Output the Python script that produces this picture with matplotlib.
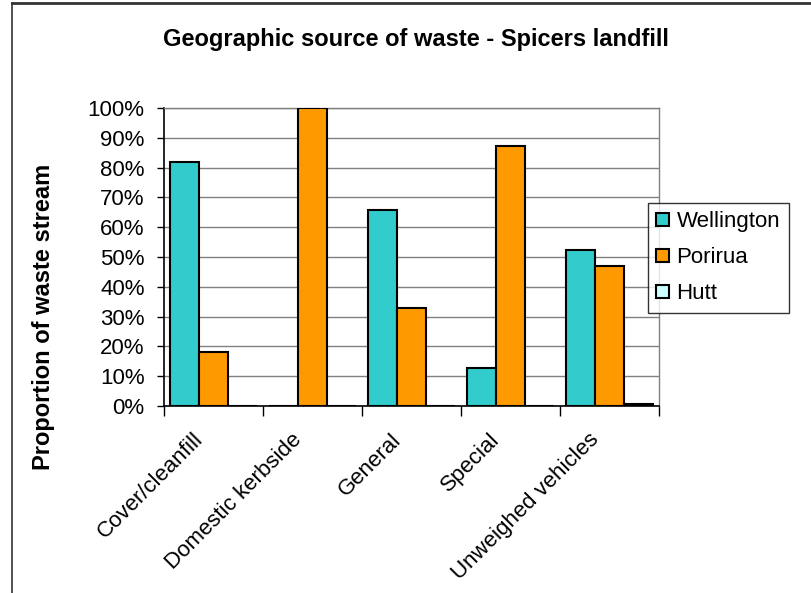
import matplotlib
matplotlib.use("Agg")
import matplotlib.pyplot as plt
from matplotlib.lines import Line2D
from matplotlib.ticker import FixedLocator, PercentFormatter
import numpy as np

plt.rcParams['font.family'] = ['Liberation Sans', 'DejaVu Sans']

categories = ["Cover/cleanfill", "Domestic kerbside", "General", "Special", "Unweighed vehicles"]
wellington = [81.8, 0.0, 65.9, 12.9, 52.3]
porirua = [18.2, 100.0, 32.9, 87.3, 47.0]
hutt = [0.0, 0.0, 0.0, 0.0, 0.6]
series_names = ["Wellington", "Porirua", "Hutt"]
series_colors = ["#33CCCC", "#FF9900", "#CCFFFF"]

fig = plt.figure(figsize=(8.11, 5.93), dpi=100)
ax = fig.add_axes([0.2022, 0.3153, 0.6104, 0.5026])

x = np.arange(len(categories))
w = 0.296
for i, (vals, name, col) in enumerate(zip([wellington, porirua, hutt], series_names, series_colors)):
    ax.bar(x + (i - 1) * w, vals, width=w, color=col, edgecolor="black",
           linewidth=1.5, label=name, zorder=3)

ax.set_xlim(-0.5, len(categories) - 0.5)
ax.set_ylim(0, 100)
ax.yaxis.set_major_locator(FixedLocator(np.arange(0, 101, 10)))
ax.yaxis.set_major_formatter(PercentFormatter(decimals=0))
ax.grid(axis="y", color="#808080", linewidth=1.0, zorder=0)
ax.set_axisbelow(True)

# category labels near centres, tick marks at boundaries
ax.set_xticks(x - 0.14)
ax.set_xticklabels(categories, rotation=45, ha="right", va="center",
                   rotation_mode="anchor", fontsize=16)
ax.tick_params(axis="x", which="major", length=0, pad=22)
ax.set_xticks(np.arange(-0.5, len(categories), 1.0), minor=True)
ax.tick_params(axis="x", which="minor", length=7, width=1.0, color="black", direction="out")
ax.tick_params(axis="y", length=5, width=1.0, direction="out", labelsize=16, pad=9)

for side in ("top", "right"):
    ax.spines[side].set_color("#808080")
    ax.spines[side].set_linewidth(1.0)
ax.spines["left"].set_color("black")
ax.spines["bottom"].set_color("black")
ax.spines["left"].set_linewidth(1.2)
ax.spines["bottom"].set_linewidth(1.2)

ax.set_ylabel("Proportion of waste stream", fontsize=17, fontweight="bold")
ax.yaxis.set_label_coords(-0.22, 0.299)

fig.text(0.513, 0.933, "Geographic source of waste - Spicers landfill",
         ha="center", va="center", fontsize=17, fontweight="bold")

leg = ax.legend(loc="upper left", bbox_to_anchor=(0.799, 0.658),
                bbox_transform=fig.transFigure, frameon=True, fancybox=False,
                fontsize=16, handlelength=0.55, handleheight=0.55,
                handletextpad=0.35, labelspacing=0.68, borderpad=0.38, borderaxespad=0)
leg.get_frame().set_edgecolor("black")
leg.get_frame().set_linewidth(1.0)
leg.set_zorder(10)

# chart-area frame along the top and left edges
fig.add_artist(Line2D([12 / 811, 1.0], [1 - 3 / 593, 1 - 3 / 593],
                      transform=fig.transFigure, color="#333333", linewidth=2))
fig.add_artist(Line2D([12 / 811, 12 / 811], [0.0, 1 - 3 / 593],
                      transform=fig.transFigure, color="#333333", linewidth=1.2))

fig.savefig("out.png", dpi=100)
